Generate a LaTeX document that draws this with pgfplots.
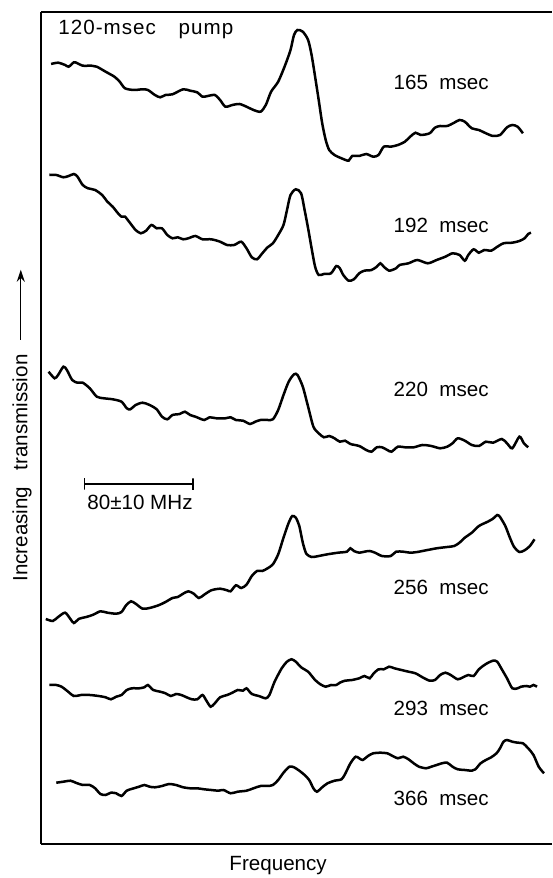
\documentclass[border=0pt]{standalone}
\usepackage{pgfplots}
\pgfplotsset{compat=1.18}
\usepackage{fontspec}
\setmainfont{Liberation Sans}
\usetikzlibrary{arrows.meta}
\newcommand{\lbl}{\fontsize{10.3}{12}\selectfont}
\begin{document}
\begin{tikzpicture}[tr/.style={black, solid, line width=1.25pt, smooth, tension=0.45, mark=none}]
\begin{axis}[
  scale only axis, width=255.5pt, height=416.15pt,
  xmin=41, xmax=552, ymin=-844, ymax=-11.7,
  axis x line*=box, axis y line*=left,
  axis line style={line width=0.9pt},
  xtick=\empty, ytick=\empty, clip=false,
  cycle list={{black,solid}},
  label style={font=\lbl},
  xlabel={Frequency},
  xlabel style={at={(axis description cs:0.464,-0.0324)}, anchor=base, inner sep=0pt},
  ylabel={Increasing\hspace{0.8em}transmission\hspace{7pt}\tikz[baseline=-0.6ex]\draw[line width=0.7pt,-{Stealth[length=6pt,width=4pt]}] (0,0)--(35pt,0);},
  ylabel style={at={(axis description cs:-0.0372,0.503)}, anchor=center, rotate=0},
]
% 165 msec
\addplot[tr] coordinates {(51.1,-64)(58.1,-62.7)(65.1,-65)(68.7,-66.7)(73.9,-62.3)(77.5,-63.3)(82.7,-65.7)(91.5,-65.7)(96.8,-66.7)(105.6,-71.7)(114.4,-76.7)(119.7,-81.7)(125,-88.3)(133.8,-90)(142.6,-89.3)(147.9,-90)(154.9,-95)(160.2,-97.3)(165.5,-95)(172.5,-94.3)(183.1,-89.3)(190.1,-90.7)(197.2,-92.3)(202.5,-96.7)(207.7,-96)(214.8,-95)(220.1,-100)(225.4,-106.7)(232.4,-105)(239.4,-104)(246.5,-106.7)(253.5,-110)(260.6,-111.7)(265.8,-105)(271.1,-91.7)(278.2,-81.7)(285.2,-65)(290.5,-50)(294,-35)(297.5,-30)(302.8,-31.7)(308.1,-40)(311.6,-55)(315.1,-76.7)(318.7,-100)(322.2,-123.3)(325.7,-140)(329.2,-150)(334.5,-155)(341.5,-158.3)(348.6,-160.7)(352.1,-156)(359.2,-156)(366.2,-154)(373.2,-156.7)(378.5,-155)(383.8,-146.7)(390.8,-146.7)(397.9,-145)(404.9,-141.7)(410.2,-136.7)(415.5,-132.7)(420.8,-135)(429.6,-133.3)(434.9,-127.7)(440.1,-126)(447.2,-126)(454.2,-122.7)(459.5,-120)(464.8,-121.7)(471.8,-128.3)(478.9,-130)(485.9,-133.3)(493,-136)(500,-135)(507,-127.3)(512.3,-125)(517.6,-126.7)(522.9,-133.3)};
% 192 msec
\addplot[tr] coordinates {(49.3,-175)(56.3,-175)(63.4,-177.3)(68.7,-176)(73.9,-174)(77.5,-176.7)(82.7,-185)(88,-188.3)(95.1,-190)(102.1,-195)(107.4,-201.7)(112.7,-206.7)(118,-213.3)(121.5,-216.7)(125,-216.7)(130.3,-223.3)(135.6,-230)(140.8,-233.3)(146.1,-230.7)(151.4,-225)(156.7,-228.3)(162,-228.3)(167.3,-235)(172.5,-238.3)(177.8,-237.3)(183.1,-239.3)(188.4,-238.3)(195.4,-236)(202.5,-239.3)(211.3,-239.3)(220.1,-241.7)(227.1,-245)(234.2,-245)(241.2,-241.7)(246.5,-248.3)(251.8,-257.3)(257,-259.3)(262.3,-253.3)(267.6,-247.3)(272.9,-243.3)(278.2,-235)(283.5,-225)(287,-210)(290.5,-195)(295.8,-189.3)(301.1,-193.3)(304.6,-210)(308.1,-228.3)(311.6,-248.3)(315.1,-266.7)(318.7,-275)(323.9,-274)(331,-273.3)(336.3,-266)(339.8,-268.3)(343.3,-275)(348.6,-280.7)(353.9,-279.3)(359.2,-273.3)(364.4,-270.7)(371.5,-270)(376.8,-266.7)(380.3,-263.3)(383.8,-266.7)(389.1,-270.7)(396.1,-268.3)(399.6,-265)(408.5,-263.3)(417.3,-260)(427.8,-263.3)(436.6,-260)(445.4,-256.7)(452.5,-253.3)(459.5,-255)(464.8,-260.7)(468.3,-255)(473.6,-249.3)(478.9,-252.7)(484.2,-250)(491.2,-250.7)(496.5,-247.3)(503.5,-243.3)(512.3,-242.7)(519.4,-241)(524.6,-238.3)(528.2,-234)(531,-232.7)};
% 220 msec
\addplot[tr] coordinates {(48.6,-371.7)(54.6,-378.3)(58.1,-375)(63.4,-366.7)(66.9,-370)(72.2,-380)(77.5,-382.7)(82.7,-382.7)(89.8,-388.3)(96.8,-396.7)(103.9,-398.3)(112.7,-399.3)(121.5,-401.7)(126.8,-408.3)(130.3,-409.3)(135.6,-405)(142.6,-402.7)(149.6,-405)(156.7,-409.3)(162,-416.7)(167.3,-419.3)(172.5,-415)(179.6,-414)(184.9,-411.7)(190.1,-415)(195.4,-416.7)(204.2,-420)(209.5,-417.3)(216.5,-418.3)(225.4,-418.3)(230.6,-417.3)(235.9,-420)(243,-420.7)(250,-424)(255.3,-421.7)(260.6,-420)(267.6,-420)(272.9,-419.3)(278.2,-410)(283.5,-395)(288.7,-381.7)(294,-374.3)(297.5,-375)(302.8,-386.7)(308.1,-406.7)(313.4,-426.7)(318.7,-433.3)(323.9,-437.3)(329.2,-436)(334.5,-438.3)(339.8,-441.7)(345.1,-440.7)(350.4,-444)(359.2,-446)(366.2,-450)(371.5,-451.7)(376.8,-447.3)(382,-447.3)(387.3,-450)(391.5,-451.7)(397.9,-446.7)(404.9,-447.3)(413.7,-447.3)(422.5,-445)(431.3,-446)(440.1,-448.3)(447.2,-446.7)(452.5,-443.3)(457.7,-438.3)(464.8,-440.7)(471.8,-445)(478.9,-446)(485.9,-441.7)(493,-442.7)(501.8,-439)(507,-443.3)(512.3,-448.3)(519.4,-436.7)(523.9,-443.3)(528.2,-447.3)};
% 256 msec
\addplot[tr] coordinates {(45.8,-619)(52.8,-621)(58.1,-617)(65.1,-612.7)(70.4,-619)(73.9,-623)(79.2,-618.7)(86.3,-617)(93.3,-614.7)(100.4,-611.3)(107.4,-612.7)(116.2,-613.7)(121.5,-612)(126.1,-605.3)(131,-601.3)(135.6,-603.7)(142.6,-608.7)(149.6,-608)(158.5,-605.3)(165.5,-602)(172.5,-598)(177.8,-597)(183.1,-593.7)(188.4,-591.3)(193.7,-593.7)(198.9,-598)(204.2,-594.7)(211.3,-590.3)(220.1,-588.7)(227.1,-590.3)(230.6,-591.3)(235.9,-585.3)(241.2,-588)(246.5,-584.7)(251.8,-576)(257,-571)(262.3,-571)(267.6,-568.3)(272.9,-564.3)(278.2,-554.3)(283.5,-537.7)(288.7,-522.7)(292.3,-516)(295.8,-517.7)(299.3,-526)(302.8,-542.7)(306.3,-553.7)(311.6,-557)(318.7,-556)(327.5,-554.3)(338,-552.7)(346.8,-551.7)(350.4,-548.3)(353.9,-551)(359.2,-552.7)(364.4,-551.7)(369.7,-551)(375,-552.7)(382,-556)(390.8,-556)(396.1,-551.7)(403.2,-551.7)(410.2,-552.7)(417.3,-552)(426.1,-550.3)(436.6,-548.3)(447.2,-547)(454.2,-546)(459.5,-542.7)(464.8,-537.7)(471.8,-532.7)(478.9,-526)(487.7,-521.7)(493,-518.7)(497.2,-515)(500,-517)(505.3,-526)(509.9,-537.7)(514.1,-547)(519.4,-552)(524.6,-550.3)(529.9,-546)(534.5,-539.3)};
% 293 msec
\addplot[tr] coordinates {(49.3,-685)(56.3,-685)(61.6,-686.7)(66.9,-690.7)(73.9,-696)(81,-695)(89.8,-695)(98.6,-696)(105.6,-697.3)(110.9,-699.3)(116.2,-696.7)(121.5,-695)(126.8,-690)(132,-688.3)(139.1,-688.3)(144.4,-687.3)(147.9,-685)(153.2,-690)(160.2,-691.7)(165.5,-693.3)(170.8,-696)(176.1,-694)(181.3,-695)(186.6,-697.3)(191.9,-699.3)(197.2,-699.3)(202.5,-695)(206,-700)(210.6,-706.7)(214.8,-703.3)(220.1,-697.3)(227.1,-695)(232.4,-692.7)(237.7,-690)(243,-690.7)(246.5,-688.3)(251.8,-694)(258.8,-696)(265.8,-698.3)(269.4,-695)(274.6,-681.7)(281.7,-668.3)(287,-661.7)(291.5,-659.3)(295.8,-661.7)(301.1,-667.3)(308.1,-671.7)(315.1,-680)(320.4,-684.3)(325.7,-686.7)(331,-685)(336.3,-685)(339.8,-682.7)(345.1,-680.7)(352.1,-680)(359.2,-678.3)(364.4,-676)(369.7,-678.3)(373.2,-674)(378.5,-669.3)(383.8,-669.3)(389.1,-666.7)(394.4,-668.3)(401.4,-670)(408.5,-671.7)(415.5,-673.3)(422.5,-677.3)(429.6,-680.7)(434.9,-680)(440.1,-675)(445.4,-672.7)(450.7,-675)(457.7,-679.3)(463,-677.3)(468.3,-675)(473.6,-676)(478.9,-669.3)(485.9,-664)(493,-660.7)(497.2,-661.7)(501.8,-669.3)(507,-678.3)(512.3,-688.3)(517.6,-688.3)(521.1,-686.7)(526.4,-686)(529.9,-686.7)(533.5,-685)(537,-686.7)};
% 366 msec
\addplot[tr] coordinates {(56.3,-782.7)(63.4,-781.7)(70.4,-780.7)(75.7,-782.7)(82.7,-785)(89.8,-785)(95.1,-788.3)(100.4,-794)(105.6,-795)(110.9,-792.7)(116.2,-793.3)(121.5,-796)(126.8,-790.7)(133.8,-788.3)(139.1,-786.7)(144.4,-785)(149.6,-786.7)(154.9,-787.3)(162,-786)(169,-784)(176.1,-785)(183.1,-787.3)(190.1,-788.3)(197.2,-788.3)(204.2,-789.3)(211.3,-790)(218.3,-790.7)(223.6,-790)(230.6,-793.3)(237.7,-791.7)(246.5,-790.7)(253.5,-788.3)(260.6,-786)(267.6,-786)(272.9,-785)(278.2,-780)(283.5,-772.7)(289.4,-766.7)(294,-767.3)(299.3,-770.7)(304.6,-775)(309.2,-780)(313.4,-788.3)(316.9,-791.7)(322.2,-787.3)(327.5,-783.3)(334.5,-780.7)(341.5,-779.3)(345.1,-774)(350.4,-763.3)(355.6,-756.7)(359.2,-758.3)(362.7,-760)(368,-756)(373.2,-753.3)(380.3,-752.7)(387.3,-753.3)(392.6,-756)(397.9,-758.3)(403.2,-756.7)(408.5,-759.3)(413.7,-763.3)(419,-766.7)(426.1,-768.3)(431.3,-766.7)(436.6,-765)(441.9,-763.3)(447.2,-762.7)(452.5,-766.7)(457.7,-769.3)(464.8,-770)(471.8,-770.7)(475.4,-769.3)(480.6,-763.3)(485.9,-760)(491.2,-757.3)(496.5,-753.3)(500,-748.3)(503.5,-741.7)(507,-740)(512.3,-741.7)(517.6,-742.7)(522.9,-743.3)(528.2,-748.3)(533.5,-755)(538.7,-766.7)(544,-773.3)};
% scale bar
\addplot[black, solid, line width=0.6pt, sharp plot, mark=none] coordinates {(84.5,-478.3)(84.5,-489.7)(84.5,-484)(193,-484)(193,-478.3)(193,-489.7)};
\node[font=\lbl, anchor=base, inner sep=0pt] at (axis cs:140,-510) {80±10 MHz};
\node[font=\lbl\addfontfeature{LetterSpace=5}, anchor=base west, inner sep=0pt] at (axis cs:58,-35) {120-msec\hspace{1.1em}pump};
\node[font=\lbl, anchor=base east, inner sep=0pt] at (axis cs:489,-90) {165\hspace{0.55em}msec};
\node[font=\lbl, anchor=base east, inner sep=0pt] at (axis cs:489,-233) {192\hspace{0.55em}msec};
\node[font=\lbl, anchor=base east, inner sep=0pt] at (axis cs:489,-397) {220\hspace{0.55em}msec};
\node[font=\lbl, anchor=base east, inner sep=0pt] at (axis cs:489,-595) {256\hspace{0.55em}msec};
\node[font=\lbl, anchor=base east, inner sep=0pt] at (axis cs:489,-716) {293\hspace{0.55em}msec};
\node[font=\lbl, anchor=base east, inner sep=0pt] at (axis cs:489,-806) {366\hspace{0.55em}msec};
\coordinate (BL) at (axis cs:0,-878);
\coordinate (TR) at (axis cs:552,0);
\end{axis}
\pgfresetboundingbox
\path (BL) rectangle (TR);
\end{tikzpicture}
\end{document}
